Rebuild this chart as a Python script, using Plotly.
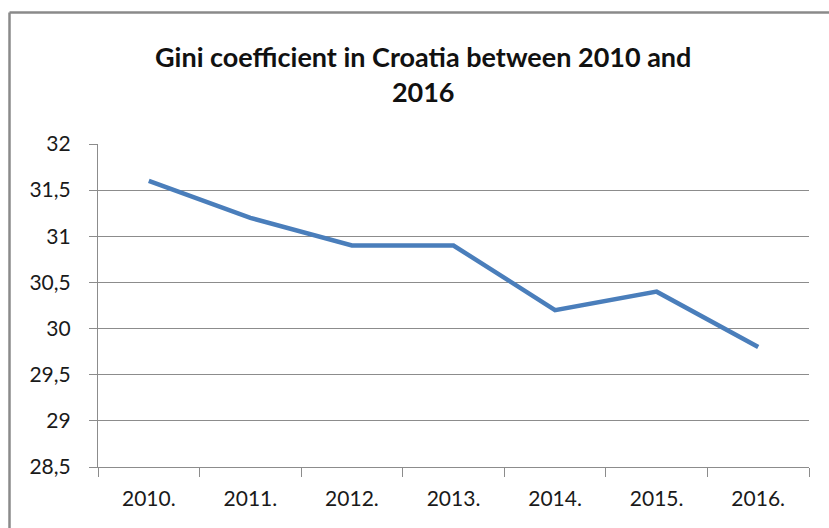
import plotly.graph_objects as go

# Gini coefficient for Croatia, 2010-2016
years = ["2010.", "2011.", "2012.", "2013.", "2014.", "2015.", "2016."]
gini = [31.6, 31.2, 30.9, 30.9, 30.2, 30.4, 29.8]

y_ticks = [28.5, 29, 29.5, 30, 30.5, 31, 31.5, 32]

W, H = 829, 528
ML, MR, MT, MB = 98, 20, 144, 61
plot_w = W - ML - MR
plot_h = H - MT - MB


def px_x(px):
    return (px - ML) / plot_w


def px_y(py):
    return (H - MB - py) / plot_h


FONT = "Lato"
GRID = "#8c8c8c"

fig = go.Figure()
fig.add_trace(go.Scatter(
    x=years, y=gini, mode="lines",
    line=dict(color="#4A7EBB", width=4.5),
    hoverinfo="x+y", showlegend=False,
))

fig.update_layout(
    width=W, height=H,
    margin=dict(l=ML, r=MR, t=MT, b=MB),
    paper_bgcolor="white", plot_bgcolor="white",
    separators=", ",
    font=dict(family=FONT, color="#1a1a1a"),
    xaxis=dict(
        type="category", tickson="boundaries",
        showgrid=False, showline=True, linecolor=GRID, linewidth=1.2,
        ticks="outside", ticklen=9, tickcolor=GRID, tickwidth=1.2,
        tickfont=dict(family=FONT, size=21, color="#1a1a1a"),
        ticklabelstandoff=13,
        range=[-0.5, 6.5], fixedrange=True,
    ),
    yaxis=dict(
        range=[28.5, 32], tickvals=y_ticks,
        showgrid=True, gridcolor=GRID, gridwidth=1.2,
        showline=True, linecolor=GRID, linewidth=1.2,
        ticks="outside", ticklen=8, tickcolor=GRID, tickwidth=1.2,
        tickfont=dict(family=FONT, size=21, color="#1a1a1a"),
        ticklabelstandoff=14,
        zeroline=False, fixedrange=True,
    ),
)

# chart title, two lines, centred above the plot
fig.add_annotation(
    text="<b>Gini coefficient in Croatia between 2010 and<br>2016</b>",
    xref="paper", yref="paper", x=px_x(423), y=px_y(38),
    xanchor="center", yanchor="top", showarrow=False, align="center",
    font=dict(family=FONT, size=27, color="#111111"),
)

# frame around the chart (left and top edges fall inside the page)
fig.add_shape(type="line", xref="paper", yref="paper",
              x0=px_x(9.5), x1=px_x(9.5), y0=px_y(12.5), y1=px_y(540),
              line=dict(color="#8a8a8a", width=2.5))
fig.add_shape(type="line", xref="paper", yref="paper",
              x0=px_x(9.5), x1=px_x(840), y0=px_y(12.5), y1=px_y(12.5),
              line=dict(color="#8a8a8a", width=2.5))

fig.write_html("out.html")
